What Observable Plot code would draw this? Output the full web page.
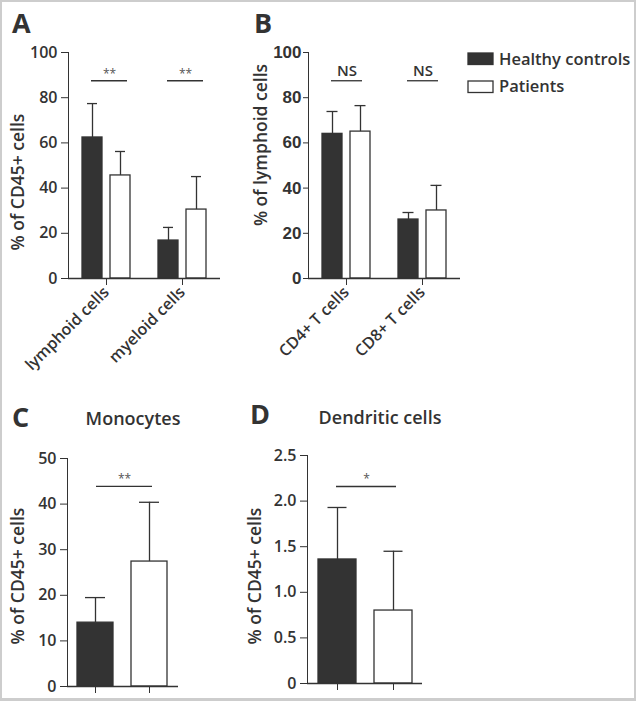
<!DOCTYPE html>
<html><head><meta charset="utf-8">
<script src="https://cdn.jsdelivr.net/npm/d3@7"></script>
<script src="https://cdn.jsdelivr.net/npm/@observablehq/plot@0.6"></script>
<style>
body{margin:0;background:#fff;}
#wrap{position:relative;width:641px;height:701px;overflow:hidden;font-family:"Open Sans",sans-serif;color:#333;}
#wrap svg{position:absolute;overflow:visible;}
#border{position:absolute;left:0;top:0;width:636px;height:701px;box-sizing:border-box;border:2px solid #cdcdcd;border-bottom-width:3px;}
</style></head><body><div id="wrap"><div id="border"></div></div>
<script>
// ---- data ----
const groups = ["Healthy controls", "Patients"];

const catsA = ["lymphoid cells", "myeloid cells"];
const meanA_healthy = [62.4, 16.8];
const sdA_healthy = [15.0, 5.8];
const meanA_patients = [45.6, 30.5];
const sdA_patients = [10.6, 14.6];
const sigA = ["**", "**"];
const sigLevelA = 87.5;
const ticksA = [0, 20, 40, 60, 80, 100];

const catsB = ["CD4+ T cells", "CD8+ T cells"];
const meanB_healthy = [64.0, 26.1];
const sdB_healthy = [9.9, 3.1];
const meanB_patients = [65.0, 30.1];
const sdB_patients = [11.5, 11.1];
const sigB = ["NS", "NS"];
const sigLevelB = 87.5;
const ticksB = [0, 20, 40, 60, 80, 100];

const meanC = [14.0, 27.4];
const sdC = [5.5, 13.0];
const sigC = "**";
const sigLevelC = 43.9;
const ticksC = [0, 10, 20, 30, 40, 50];

const meanD = [1.36, 0.80];
const sdD = [0.57, 0.65];
const sigD = "*";
const sigLevelD = 2.16;
const ticksD = [0, 0.5, 1.0, 1.5, 2.0, 2.5];

const panelLetters = ["A", "B", "C", "D"];
const titleC = "Monocytes";
const titleD = "Dendritic cells";
const yLabelA = "% of CD45+ cells";
const yLabelB = "% of lymphoid cells";
const yLabelC = "% of CD45+ cells";
const yLabelD = "% of CD45+ cells";

// ---- helpers ----
const ink = "#333";
const wrap = document.getElementById("wrap");
function rows(cats, mh, sh, mp, sp) {
  return cats.flatMap((c, i) => [
    {cat: c, grp: groups[0], mean: mh[i], sd: sh[i]},
    {cat: c, grp: groups[1], mean: mp[i], sd: sp[i]}
  ]);
}
function place(svg, left, top) {
  svg.style.left = left + "px";
  svg.style.top = top + "px";
  wrap.appendChild(svg);
}

function groupedPanel(o) {
  const data = rows(o.cats, o.mh, o.sh, o.mp, o.sp);
  const sigRows = o.cats.map((c, i) => ({cat: c, level: o.level, label: o.sig[i]}));
  const svg = Plot.plot({
    width: o.width, height: o.height,
    marginLeft: o.ml, marginRight: o.mr, marginTop: o.mt, marginBottom: o.mb,
    style: {fontFamily: '"Open Sans", sans-serif', fontSize: "16px", fontWeight: 600, color: ink, background: "transparent", overflow: "visible"},
    fx: {domain: o.cats, padding: 0, axis: "bottom", tickRotate: -45, tickSize: 7, tickPadding: 4, label: null},
    x: {domain: groups, axis: null, paddingInner: 0.3, paddingOuter: 0.5},
    y: {domain: [o.ticks[0], o.ticks[o.ticks.length - 1]], ticks: o.ticks, tickSize: o.ytick, tickPadding: o.ypad, line: true, label: null},
    color: {domain: groups, range: ["#333333", "#ffffff"]},
    marks: [
      Plot.barY(data, {fx: "cat", x: "grp", y: "mean", fill: "grp", stroke: ink, strokeWidth: 1.3}),
      Plot.ruleX(data, {fx: "cat", x: "grp", y1: "mean", y2: d => d.mean + d.sd, stroke: ink, strokeWidth: 1.3}),
      Plot.tickY(data, {fx: "cat", x: "grp", y: d => d.mean + d.sd, stroke: ink, strokeWidth: 1.3, insetLeft: o.cap, insetRight: o.cap}),
      Plot.ruleY(sigRows, {fx: "cat", y: "level", stroke: ink, strokeWidth: 1.3, insetLeft: o.insL, insetRight: o.insR}),
      Plot.text(sigRows, {fx: "cat", y: "level", text: "label", dx: o.sigDx, dy: o.sigDy, fontSize: o.sigSize, fontWeight: o.sigWeight, fill: o.sigFill}),
      Plot.ruleY([0], {stroke: ink, strokeWidth: 1.3})
    ]
  });
  if (o.yFont) {
    svg.querySelectorAll('[aria-label^="y-axis"] text').forEach(t => {
      t.setAttribute("font-family", o.yFont);
      t.setAttribute("font-weight", "700");
      t.setAttribute("font-size", "17");
    });
  }
  place(svg, o.left, o.top);
}

function singlePanel(o) {
  const data = groups.map((g, i) => ({grp: g, mean: o.mean[i], sd: o.sd[i]}));
  const svg = Plot.plot({
    width: o.width, height: o.height,
    marginLeft: o.ml, marginRight: o.mr, marginTop: o.mt, marginBottom: o.mb,
    style: {fontFamily: '"Open Sans", sans-serif', fontSize: "16px", fontWeight: 600, color: ink, background: "transparent", overflow: "visible"},
    x: {domain: groups, paddingInner: 0.33, paddingOuter: 0.18, tickSize: 7, tickFormat: () => "", label: null},
    y: {domain: [o.ticks[0], o.ticks[o.ticks.length - 1]], ticks: o.ticks, tickSize: 7, tickPadding: 4, line: true, label: null, tickFormat: o.fmt},
    color: {domain: groups, range: ["#333333", "#ffffff"]},
    marks: [
      Plot.barY(data, {x: "grp", y: "mean", fill: "grp", stroke: ink, strokeWidth: 1.3}),
      Plot.ruleX(data, {x: "grp", y1: "mean", y2: d => d.mean + d.sd, stroke: ink, strokeWidth: 1.3}),
      Plot.tickY(data, {x: "grp", y: d => d.mean + d.sd, stroke: ink, strokeWidth: 1.3, insetLeft: o.cap, insetRight: o.cap}),
      Plot.ruleY([o.level], {stroke: ink, strokeWidth: 1.3, insetLeft: 29, insetRight: 26}),
      Plot.text([o.sig], {y: () => o.level, text: d => d, dx: 1.5, dy: -7, fontSize: 12, fontWeight: 400, fill: "#555"}),
      Plot.ruleY([0], {stroke: ink, strokeWidth: 1.3})
    ]
  });
  place(svg, o.left, o.top);
}

groupedPanel({cats: catsA, mh: meanA_healthy, sh: sdA_healthy, mp: meanA_patients, sp: sdA_patients,
  sig: sigA, level: sigLevelA, ticks: ticksA, left: 0, top: 0, width: 230, height: 380,
  ml: 68, mr: 10, mt: 52, mb: 102, ytick: 7, ypad: 4, cap: 5, insL: 23, insR: 17, sigDx: 3, sigDy: -7,
  sigSize: 12, sigWeight: 400, sigFill: "#555"});

groupedPanel({cats: catsB, mh: meanB_healthy, sh: sdB_healthy, mp: meanB_patients, sp: sdB_patients,
  sig: sigB, level: sigLevelB, ticks: ticksB, left: 220, top: 0, width: 250, height: 380,
  ml: 87, mr: 10, mt: 52, mb: 102, ytick: 5, ypad: 2, cap: 4.5, insL: 23, insR: 22, sigDx: 0.5, sigDy: -10,
  sigSize: 15, sigWeight: 600, sigFill: ink, yFont: '"Liberation Sans", Arial, sans-serif'});

singlePanel({mean: meanC, sd: sdC, sig: sigC, level: sigLevelC, ticks: ticksC,
  left: 0, top: 430, width: 200, height: 268, ml: 67, mr: 22, mt: 28, mb: 12, cap: 8, fmt: d => String(d)});

singlePanel({mean: meanD, sd: sdD, sig: sigD, level: sigLevelD, ticks: ticksD,
  left: 220, top: 430, width: 220, height: 268, ml: 87, mr: 18, mt: 25, mb: 15, cap: 9.5,
  fmt: d => d === 0 ? "0" : d.toFixed(1)});

// ---- annotations overlay ----
const ov = d3.create("svg").attr("width", 641).attr("height", 701)
  .style("left", "0px").style("top", "0px")
  .attr("font-family", '"Open Sans", sans-serif').attr("fill", ink);
const letterPos = [[12, 33], [254, 33], [12, 427], [250, 424]];
panelLetters.forEach((t, i) => ov.append("text").attr("x", letterPos[i][0]).attr("y", letterPos[i][1])
  .attr("font-size", 27).attr("font-weight", 700).text(t));
ov.append("text").attr("x", 133).attr("y", 425).attr("text-anchor", "middle").attr("font-size", 18).attr("font-weight", 600).text(titleC);
ov.append("text").attr("x", 380).attr("y", 424).attr("text-anchor", "middle").attr("font-size", 18).attr("font-weight", 600).text(titleD);
const yl = [[yLabelA, 24, 182], [yLabelB, 267, 145], [yLabelC, 24, 576], [yLabelD, 261, 576]];
yl.forEach(([t, x, y]) => ov.append("text").attr("transform", `translate(${x},${y}) rotate(-90)`)
  .attr("text-anchor", "middle").attr("font-size", 17.5).attr("font-weight", 600).text(t));
// legend
const legY = [[53, 65], [81, 92]];
groups.forEach((g, i) => {
  ov.append("rect").attr("x", 468).attr("y", legY[i][0]).attr("width", 25).attr("height", 11.5)
    .attr("fill", i === 0 ? "#333" : "#fff").attr("stroke", ink).attr("stroke-width", 1.3);
  ov.append("text").attr("x", 499).attr("y", legY[i][1]).attr("font-size", 16.5).attr("font-weight", 600).text(g);
});
wrap.appendChild(ov.node());
</script></body></html>
